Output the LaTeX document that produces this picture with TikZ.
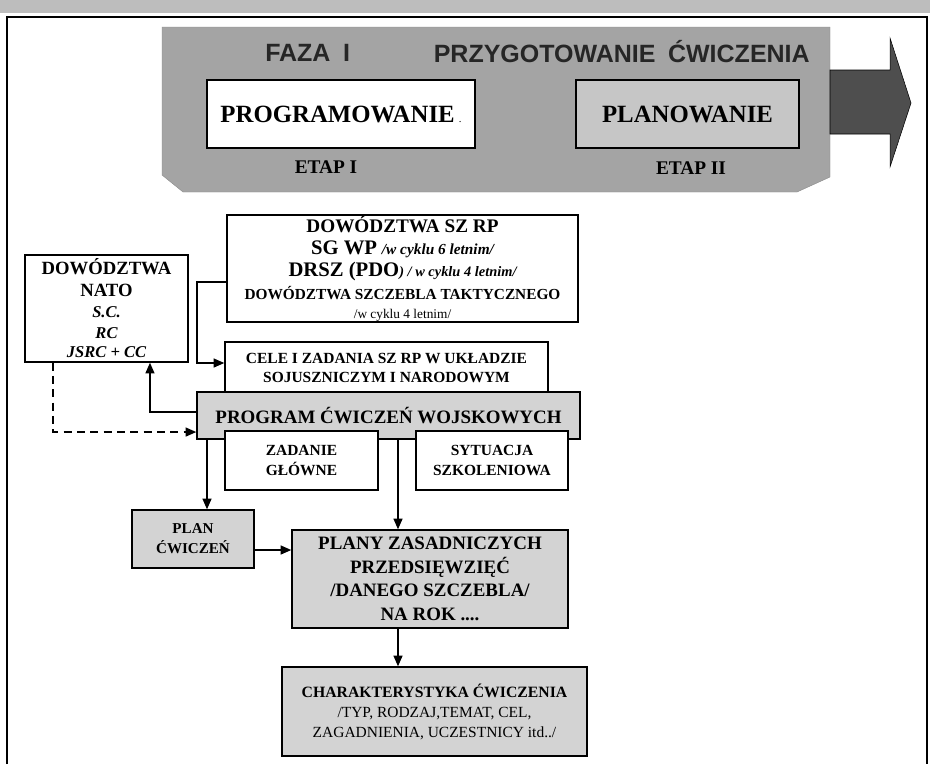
\documentclass[tikz,border=0pt]{standalone}
\usepackage{fontspec}
\setmainfont{Liberation Serif}
\newfontfamily\arialf{Liberation Sans}
\usetikzlibrary{arrows.meta}
\definecolor{bannergray}{HTML}{A4A4A4}
\definecolor{lightgrayb}{HTML}{C6C6C6}
\definecolor{boxgray}{HTML}{D3D3D3}
\definecolor{arrowgray}{HTML}{4E4E4E}
\definecolor{stripgray}{HTML}{BDBDBD}
\definecolor{bannertext}{HTML}{262626}
\newcommand\fsz[2]{\fontsize{#1}{#2}\selectfont}
\begin{document}
\begin{tikzpicture}[x=0.75pt,y=-0.75pt,
  box/.style={draw=black, line width=0.9pt, inner sep=0pt, align=center, fill=white},
  gbox/.style={box, fill=boxgray},
  conn/.style={line width=1.5pt, -{Triangle[length=8pt,width=6.5pt]}},
  dconn/.style={conn, dash pattern=on 6pt off 4pt},
  btext/.style={inner sep=0pt, font=\arialf\bfseries\fsz{18.75pt}{19pt}, text=bannertext},
  etap/.style={inner sep=0pt, font=\bfseries\fsz{14.5pt}{15pt}}
]
\useasboundingbox (0,0) rectangle (930,764);
\fill[white] (0,0) rectangle (930,764);
% top strip and frame
\fill[stripgray] (0,0) rectangle (930,13);
\draw[line width=1.5pt] (7,764) -- (7,17) -- (927,17) -- (927,764);

% banner
\filldraw[fill=bannergray, draw=bannergray!85!black, line width=0.3pt]
  (162,27) -- (830,27) -- (830,177) -- (797,192) -- (183,192) -- (162,175) -- cycle;
\filldraw[fill=arrowgray, draw=black, line width=0.4pt]
  (830,70) -- (890,70) -- (890,38) -- (911,103) -- (890,167) -- (890,134) -- (830,134) -- cycle;

\node[btext, anchor=west] (faza) at (265,53) {FAZA\hspace{0.5em}I};
\node[btext, anchor=east] (przyg) at (810,52) {PRZYGOTOWANIE\hspace{0.5em}ĆWICZENIA};

\node[box, minimum width=201pt, minimum height=51pt, font=\bfseries\fsz{18.6pt}{20pt}] (progw) at (341,114)
  {PROGRAMOWANIE\,{\fsz{8pt}{8pt}\mdseries.}};
\node[box, fill=lightgrayb, minimum width=167.25pt, minimum height=51pt, font=\bfseries\fsz{18.6pt}{20pt}] (planw) at (687.5,114)
  {PLANOWANIE};
\node[etap] (etap1) at (326,167) {ETAP I};
\node[etap] (etap2) at (691,168) {ETAP II};

% upper boxes
\node[box, minimum width=263.25pt, minimum height=80.25pt, font=\fsz{14.5pt}{16.8pt}] (dow) at (402.5,268.5)
  {{\bfseries\fsz{14.4pt}{16pt}DOWÓDZTWA SZ RP}\\
   {\bfseries\fsz{15.5pt}{16pt}SG WP} {\bfseries\itshape\fsz{11.5pt}{12pt}/w cyklu 6 letnim/}\\
   {\bfseries\fsz{15.5pt}{16pt}DRSZ (PDO}{\bfseries\itshape\fsz{10.8pt}{12pt}) / w cyklu 4 letnim/}\\
   {\bfseries\fsz{11.5pt}{13pt}DOWÓDZTWA SZCZEBLA TAKTYCZNEGO}\\[-2.5pt]
   {\fsz{10pt}{12pt}/w cyklu 4 letnim/}};

\node[box, minimum width=122.25pt, minimum height=80.25pt, font=\fsz{14pt}{15.8pt}] (nato) at (106.5,308.5)
  {{\bfseries DOWÓDZTWA}\\
   {\bfseries NATO}\\
   {\bfseries\itshape\fsz{12.4pt}{14pt}S.C.}\\
   {\bfseries\itshape\fsz{12.4pt}{14pt}RC}\\[-1pt]
   {\bfseries\itshape\fsz{12.4pt}{14pt}JSRC + CC}};

\node[box, minimum width=242.25pt, minimum height=39pt, font=\bfseries\fsz{11.6pt}{14.3pt}] (cele) at (386.5,368)
  {CELE I ZADANIA SZ RP W UKŁADZIE\\SOJUSZNICZYM I NARODOWYM};

\node[gbox, minimum width=287.25pt, minimum height=35.25pt, font=\bfseries\fsz{14.2pt}{16pt}] (prog) at (388.5,415.5)
  {PROGRAM ĆWICZEŃ WOJSKOWYCH};

\node[box, minimum width=114.75pt, minimum height=44.25pt, font=\bfseries\fsz{11.6pt}{15pt}] (zad) at (301.5,460.5)
  {ZADANIE\\GŁÓWNE};
\node[box, minimum width=114pt, minimum height=44.25pt, font=\bfseries\fsz{11.6pt}{15pt}] (syt) at (492,460.5)
  {SYTUACJA\\SZKOLENIOWA};

\node[gbox, minimum width=91.5pt, minimum height=43.5pt, font=\bfseries\fsz{11.3pt}{15pt}] (plan) at (193,539)
  {PLAN\\ĆWICZEŃ};

\node[gbox, minimum width=207pt, minimum height=73.5pt, font=\bfseries\fsz{14.2pt}{17.6pt}] (plany) at (430,579)
  {PLANY ZASADNICZYCH\\PRZEDSIĘWZIĘĆ\\/DANEGO SZCZEBLA/\\NA ROK ....};

\node[gbox, minimum width=228.75pt, minimum height=66.75pt, font=\fsz{11.6pt}{15pt}] (char) at (434.5,711.5)
  {{\bfseries\fsz{11.8pt}{15pt}CHARAKTERYSTYKA ĆWICZENIA}\\
   /TYP, RODZAJ,TEMAT, CEL,\\
   ZAGADNIENIA, UCZESTNICY itd../};

% connectors
\coordinate (ax) at (398,0);
\coordinate (bx) at (207,0);
\coordinate (ay) at (0,550);
\draw[conn] ([yshift=-10pt]dow.west) -- ++(-29,0) |- ([yshift=3.75pt]cele.west);
\draw[conn] ([yshift=2.6pt]prog.west) -| ([xshift=32.6pt]nato.south);
\draw[dconn] ([xshift=-40pt]nato.south) |- ([yshift=-12.4pt]prog.west);
\draw[conn] (prog.south -| bx) -- (plan.north -| bx);
\draw[conn] (prog.south -| ax) -- (plany.north -| ax);
\draw[conn] (plan.east |- ay) -- (plany.west |- ay);
\draw[conn] (plany.south -| ax) -- (char.north -| ax);
\end{tikzpicture}
\end{document}
